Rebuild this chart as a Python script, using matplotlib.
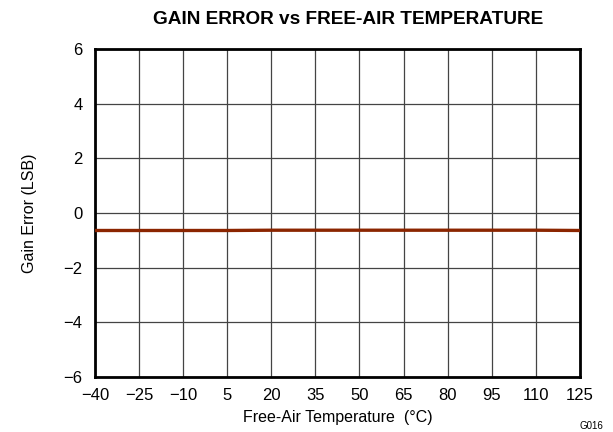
import matplotlib
matplotlib.use("Agg")
import matplotlib.pyplot as plt

plt.rcParams['font.family'] = ['Liberation Sans', 'DejaVu Sans']

temperature = [-40, -25, -10, 5, 20, 35, 50, 65, 80, 95, 110, 125]
gain_error = [-0.64, -0.64, -0.64, -0.64, -0.63, -0.63, -0.63, -0.63, -0.63, -0.63, -0.63, -0.64]
x_ticks = [-40, -25, -10, 5, 20, 35, 50, 65, 80, 95, 110, 125]
y_ticks = [-6, -4, -2, 0, 2, 4, 6]

fig = plt.figure(figsize=(6.13, 4.32), dpi=100)
ax = fig.add_axes([0.155, 0.127, 0.791, 0.760])

ax.plot(temperature, gain_error, color='#8b2500', linewidth=2.4, solid_capstyle='butt', zorder=3)

ax.set_xlim(-40, 125)
ax.set_ylim(-6, 6)
ax.set_xticks(x_ticks)
ax.set_yticks(y_ticks)
ax.set_xticklabels([str(t).replace('-', '\u2212') for t in x_ticks])
ax.set_yticklabels([str(t).replace('-', '\u2212') for t in y_ticks])
ax.tick_params(length=0, labelsize=12, pad=8)
ax.tick_params(axis='y', pad=9)
ax.grid(color='#444444', linewidth=0.9)
for s in ax.spines.values():
    s.set_linewidth(2)

ax.set_xlabel('Free-Air Temperature  (°C)', fontsize=11.5, labelpad=5)
ax.set_ylabel('Gain Error (LSB)', fontsize=11.5, labelpad=19)
ax.set_title('GAIN ERROR vs FREE-AIR TEMPERATURE', fontsize=13.7, fontweight='bold', pad=18, x=0.522)
fig.text(0.984, 0.008, 'G016', fontsize=7, ha='right')

fig.savefig('out.png', dpi=100)
